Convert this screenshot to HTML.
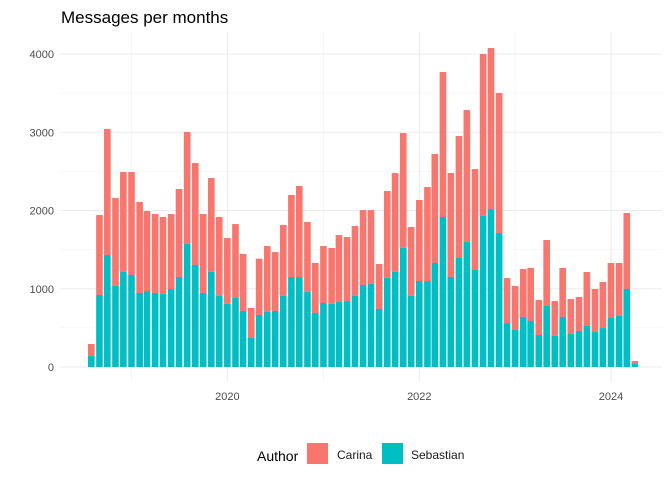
<!DOCTYPE html>
<html><head><meta charset="utf-8"><style>
body{margin:0;background:#fff;}
svg{display:block;font-family:"Liberation Sans",Arial,sans-serif;}
</style></head><body>
<svg id="chart" width="672" height="480" viewBox="0 0 672 480">
<text x="61" y="23" font-size="17" fill="#000">Messages per months</text>
<g id="grid"></g><g id="bars"></g><g id="axes"></g>
<g>
<text x="257" y="461" font-size="14" fill="#000">Author</text>
<rect x="307" y="443" width="21" height="21" fill="#F8766D"></rect>
<text x="337" y="459" font-size="12" fill="#1a1a1a">Carina</text>
<rect x="382" y="443" width="21" height="21" fill="#00BFC4"></rect>
<text x="411" y="459" font-size="12" fill="#1a1a1a">Sebastian</text>
</g>
</svg>
<script>
const startYear = 2018, startMonth = 7; // Aug 2018 (0-based month)
const sebastian = [140,920,1431,1039,1218,1176,946,971,946,937,997,1150,1576,1304,946,1218,911,809,886,716,375,665,707,716,911,1150,1150,962,690,818,809,835,843,911,1048,1065,741,1141,1218,1525,911,1099,1099,1329,1917,1150,1393,1597,1240,1930,2019,1712,562,477,639,588,409,780,400,639,422,460,524,447,498,626,652,997,38];
const totals = [294,1942,3042,2160,2492,2492,2109,1994,1955,1917,1955,2275,3003,2607,1955,2415,1917,1649,1827,1444,754,1384,1546,1470,1815,2198,2313,1853,1329,1546,1521,1687,1661,1802,2006,2006,1316,2249,2479,2990,1789,2134,2300,2722,3770,2479,2952,3284,2530,4000,4077,3502,1137,1035,1252,1265,856,1623,843,1265,869,895,1214,997,1086,1329,1329,1968,77];
const carina = totals.map((t,i)=>t-sebastian[i]);
const yTicks = [0,1000,2000,3000,4000];
const xTicks = [2020,2022,2024];
const xMinor = [2019,2021,2023];

const NS="http://www.w3.org/2000/svg";
const panel={l:60,r:662,t:32,b:381};
const x0=Date.UTC(2019,0,1), pxDay=(611-131.5)/1826;
function xScale(ms){return 131.5+(ms-x0)/86400000*pxDay;}
function yScale(v){return 367-v*0.07825;}
function mk(tag,attrs,parent){const e=document.createElementNS(NS,tag);for(const k in attrs)e.setAttribute(k,attrs[k]);parent.appendChild(e);return e;}
const grid=document.getElementById('grid'),bars=document.getElementById('bars'),axes=document.getElementById('axes');
for(let v=500;v<=4500;v+=1000){const y=yScale(v);if(y<panel.t)continue;
 const l=mk('line',{x1:panel.l,x2:panel.r,y1:y,y2:y,stroke:'#f0f0f0','stroke-width':0.6},grid);
 
 }
yTicks.forEach(v=>{const y=yScale(v);
 const l=mk('line',{x1:panel.l,x2:panel.r,y1:y,y2:y,stroke:'#ebebeb','stroke-width':1.1},grid);
 
 
 const t=mk('text',{x:54,y:y+4,'text-anchor':'end','font-size':11,fill:'#4d4d4d'},axes);t.textContent=v;
 
 });
xMinor.forEach(yr=>{const x=xScale(Date.UTC(yr,0,1));
 const l=mk('line',{x1:x,x2:x,y1:panel.t,y2:panel.b,stroke:'#f0f0f0','stroke-width':0.6},grid);
 
 });
xTicks.forEach(yr=>{const x=xScale(Date.UTC(yr,0,1));
 const l=mk('line',{x1:x,x2:x,y1:panel.t,y2:panel.b,stroke:'#ebebeb','stroke-width':1.1},grid);
 
 
 const t=mk('text',{x:x,y:400,'text-anchor':'middle','font-size':11,fill:'#4d4d4d'},axes);t.textContent=yr;
 
 });
const bw=25.2*pxDay;
sebastian.forEach((s,i)=>{
 const cx=xScale(Date.UTC(startYear,startMonth+i,1));
 const c=carina[i];
 const r1=mk('rect',{x:cx-bw/2,y:yScale(s+c),width:bw,height:yScale(s)-yScale(s+c),fill:'#F8766D'},bars);
 
 
 const r2=mk('rect',{x:cx-bw/2,y:yScale(s),width:bw,height:yScale(0)-yScale(s),fill:'#00BFC4'},bars);
 
 
});
</script>
</body></html>
